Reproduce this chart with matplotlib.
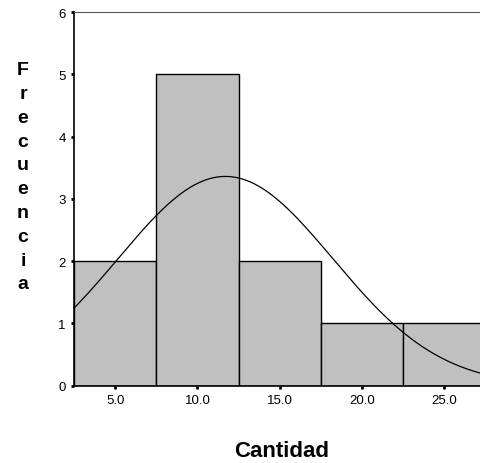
import numpy as np
import matplotlib
matplotlib.use("Agg")
import matplotlib.pyplot as plt

plt.rcParams['font.family'] = ['Liberation Sans', 'DejaVu Sans']

# histogram data
bin_centers = [5.0, 10.0, 15.0, 20.0, 25.0]
counts = [2, 5, 2, 1, 1]
bin_width = 5.0
# normal curve fit
curve_mean = 11.7
curve_sd = 6.53
n_total = 11

fig = plt.figure(figsize=(4.8, 4.64), dpi=100)
# axes runs a bit past the right edge of the image, like the original
ax = fig.add_axes([74 / 480, 1 - 386.7 / 464, (485.5 - 74) / 480, (386.7 - 13) / 464])

ax.bar(bin_centers, counts, width=bin_width, color='#c0c0c0',
       edgecolor='black', linewidth=1.0, zorder=2)

xs = np.linspace(2.5, 27.5, 300)
ys = n_total * bin_width / (curve_sd * np.sqrt(2 * np.pi)) * \
    np.exp(-0.5 * ((xs - curve_mean) / curve_sd) ** 2)
ax.plot(xs, ys, color='black', linewidth=0.9, zorder=3)

ax.set_xlim(2.5, 27.5)
ax.set_ylim(0, 6)
ax.set_xticks(bin_centers)
ax.set_xticklabels(['%.1f' % v for v in bin_centers])
ax.set_yticks(range(7))

ax.spines['right'].set_visible(False)
ax.spines['top'].set_color('#555555')
ax.spines['left'].set_linewidth(1.2)
ax.spines['bottom'].set_linewidth(1.2)
ax.tick_params(direction='out', length=2, width=2, labelsize=9.5,
               colors='black', pad=4)

# stacked y label
label = 'Frecuencia'
y0, step = 70.7, 23.8
for i, ch in enumerate(label):
    fig.text(23 / 480, 1 - (y0 + i * step) / 464, ch, ha='center', va='center',
             fontsize=14, fontweight='bold')

fig.text(282 / 480, 1 - 452 / 464, 'Cantidad', ha='center', va='center',
         fontsize=16, fontweight='bold')

fig.savefig('out.png', dpi=100)
